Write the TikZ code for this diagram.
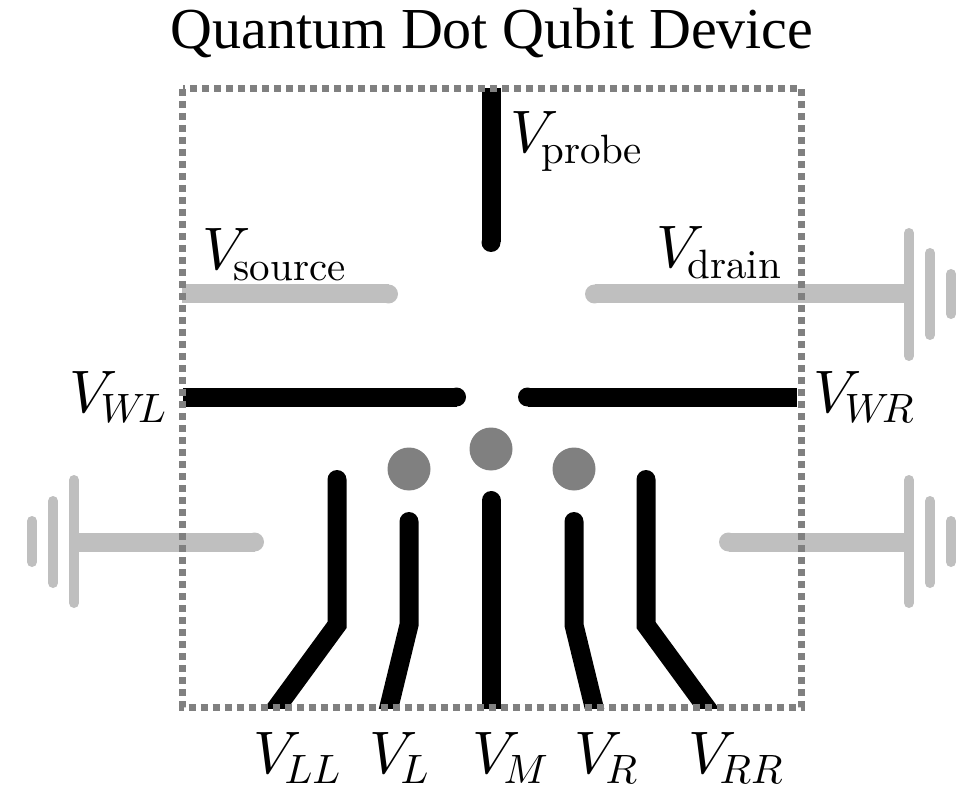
\documentclass[tikz,border=0pt]{standalone}
\usepackage{amsmath}
\usepackage{fontspec}
\newfontfamily\titlefont{Liberation Serif}
\newcommand{\biglab}[1]{\scalebox{6}{$V_{\kern-.6pt\raisebox{-.3pt}{\scalebox{.683}{$#1$}}}$}}
\tikzset{
 y=-1pt,x=1pt,
 frame/.style={draw=black!50,line width=7pt,dash pattern=on 7pt off 5pt},
 gate/.style={draw=black,line width=19pt,line cap=round,line join=miter},
 barre/.style={draw=black,line width=19pt},
 res/.style={draw=black!25,line width=19pt},
 gnd/.style={draw=black!25,line width=10pt,line cap=round},
 dot/.style={circle,fill=black!50,minimum size=43pt,inner sep=0pt},
 lab/.style={inner sep=0pt,anchor=base west},
}
\begin{document}
\begin{tikzpicture}
\useasboundingbox (0,0) rectangle (964,786);
\node[inner sep=0pt,anchor=center] (title) at (492,33) {\titlefont\fontsize{58}{58}\selectfont Quantum Dot Qubit Device};
% corners of the frame
\coordinate (ftl) at (182.5,89); \coordinate (fbr) at (801.5,707);
% grey leads
\coordinate (sa) at (182,294); \coordinate (sb) at (388.5,294);
\draw[res] (sa)--(sb); \fill[black!25] (sb) circle (9.5);
\coordinate (da) at (594.5,294); \coordinate (db) at (909,294);
\draw[res] (da)--(db); \fill[black!25] (da) circle (9.5);
\coordinate (la) at (74,542); \coordinate (lb) at (254.5,542);
\draw[res] (la)--(lb); \fill[black!25] (lb) circle (9.5);
\coordinate (ra) at (728.5,542); \coordinate (rb) at (909,542);
\draw[res] (ra)--(rb); \fill[black!25] (ra) circle (9.5);
% grounds
\draw[gnd] (909,233)--(909,356); \draw[gnd] (930,253)--(930,335); \draw[gnd] (951,274)--(951,314);
\draw[gnd] (909,480)--(909,603); \draw[gnd] (930,501)--(930,583); \draw[gnd] (951,521)--(951,562);
\draw[gnd] (74,480)--(74,603); \draw[gnd] (53,501)--(53,583); \draw[gnd] (32,521)--(32,562);
% black gates
\coordinate (pa) at (491,88); \coordinate (pb) at (491,242.5);
\draw[barre] (pa)--(pb); \fill (pb) circle (9.5);
\coordinate (wla) at (183,397); \coordinate (wlb) at (456.5,397);
\draw[barre] (wla)--(wlb); \fill (wlb) circle (9.5);
\coordinate (wra) at (527.5,397); \coordinate (wrb) at (797,397);
\draw[barre] (wra)--(wrb); \fill (wra) circle (9.5);
\begin{scope}
\clip (0,0) rectangle (964,708);
\draw[gate] (267.5,720)--(337,625)--(337,479.5);
\draw[gate] (385.8,720)--(409,625)--(409,521.5);
\draw[gate] (491,720)--(491,500.5);
\draw[gate] (597.2,720)--(574,625)--(574,521.5);
\draw[gate] (715.5,720)--(646,625)--(646,479.5);
\end{scope}
\draw[frame] (ftl) rectangle (fbr);
\node[dot] (d1) at (409,469) {};
\node[dot] (d2) at (491,449) {};
\node[dot] (d3) at (574,469) {};
\node[lab] (v1) at (510,153) {\biglab{\mathrm{probe}}};
\node[lab] (v2) at (202,270) {\biglab{\mathrm{source}}};
\node[lab] (v3) at (656,268) {\biglab{\mathrm{drain}}};
\node[lab] (v4) at (69,412) {\biglab{W\mkern-3mu L}};
\node[lab] (v5) at (813,412) {\biglab{W\mkern-3mu R}};
\node[lab] (v6) at (253,773) {\biglab{LL}};
\node[lab] (v7) at (369,773) {\biglab{L}};
\node[lab] (v8) at (472,773) {\biglab{M}};
\node[lab] (v9) at (574,773) {\biglab{R}};
\node[lab] (v10) at (688,773) {\biglab{RR}};
\end{tikzpicture}
\end{document}
